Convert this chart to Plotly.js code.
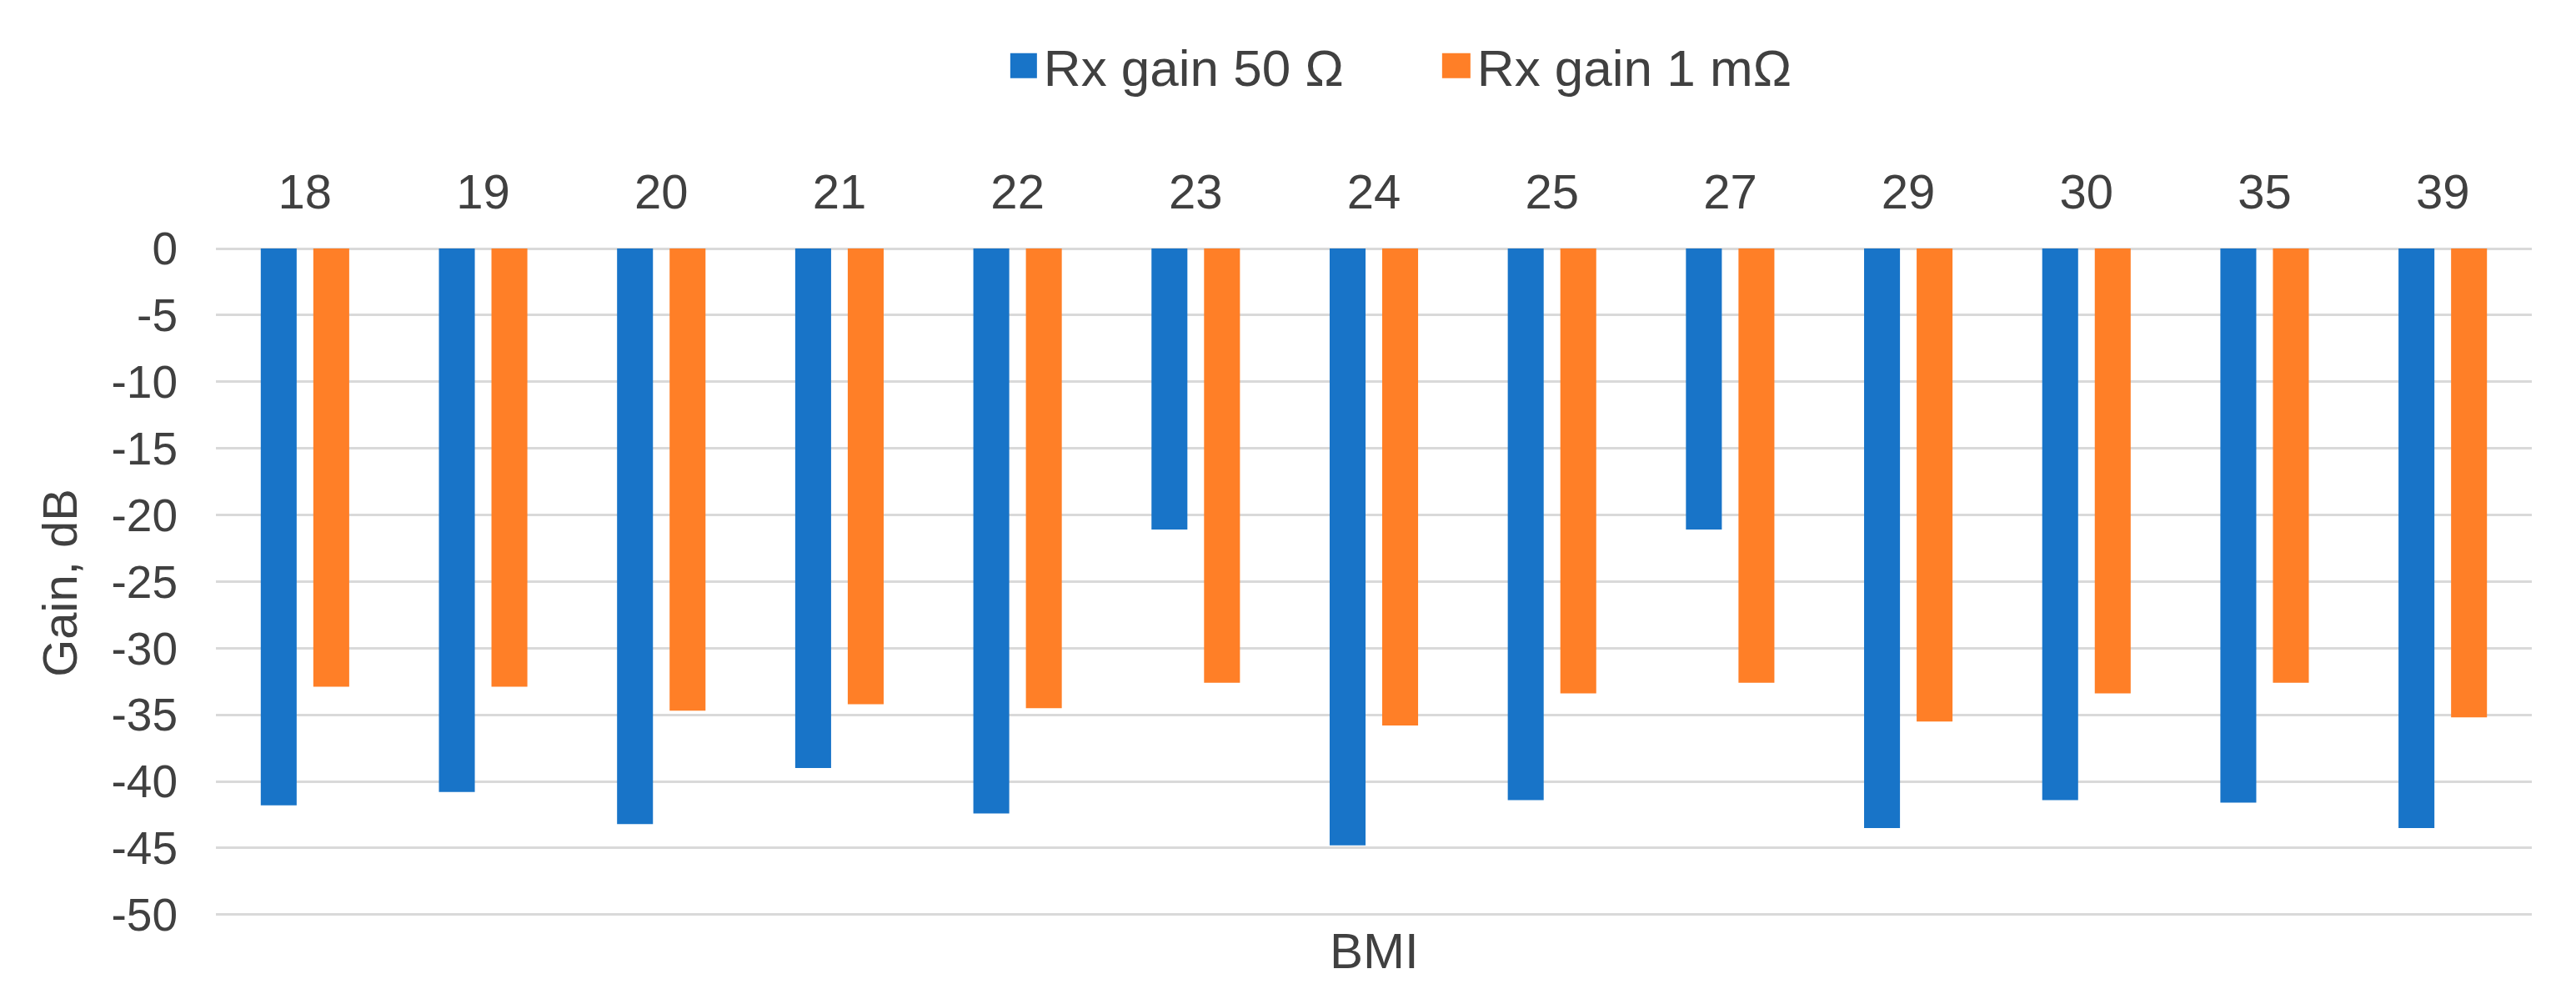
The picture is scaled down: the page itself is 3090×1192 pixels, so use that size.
<!DOCTYPE html>
<html>
<head>
<meta charset="utf-8">
<script src="https://cdn.plot.ly/plotly-3.0.1.min.js"></script>
<style>html,body{margin:0;padding:0;background:#fff;}#chart{width:3090px;height:1192px;}</style>
</head>
<body>
<div id="chart"></div>
<script>
const bmiCategories = ['18','19','20','21','22','23','24','25','27','29','30','35','39'];
const gain50Ohm = [-41.8, -40.8, -43.2, -39.0, -42.4, -21.1, -44.8, -41.4, -21.1, -43.5, -41.4, -41.6, -43.5];
const gain1mOhm = [-32.9, -32.9, -34.7, -34.2, -34.5, -32.6, -35.8, -33.4, -32.6, -35.5, -33.4, -32.6, -35.2];
const yTickValues = [0, -5, -10, -15, -20, -25, -30, -35, -40, -45, -50];
const seriesNames = ['Rx gain 50 Ω', 'Rx gain 1 mΩ'];

const FONT = 'Liberation Sans, Arial, sans-serif';
const traces = [
  {type: 'bar', name: seriesNames[0], x: bmiCategories, y: gain50Ohm, marker: {color: '#1874C8'}, hoverinfo: 'x+y'},
  {type: 'bar', name: seriesNames[1], x: bmiCategories, y: gain1mOhm, marker: {color: '#FF7F27'}, hoverinfo: 'x+y'}
];
const layout = {
  width: 3090, height: 1192,
  margin: {l: 259, r: 53, t: 298, b: 92, pad: 0},
  paper_bgcolor: '#ffffff', plot_bgcolor: '#ffffff',
  font: {family: FONT, color: '#404040'},
  barmode: 'group', bargap: 0.41, bargroupgap: 0.317,
  showlegend: true,
  legend: {orientation: 'h', x: 0.343, xanchor: 'left', y: 1.273, yanchor: 'middle',
           font: {family: FONT, size: 62, color: '#404040'}, entrywidth: 475, entrywidthmode: 'pixels',
           bgcolor: 'rgba(0,0,0,0)', borderwidth: 0},
  xaxis: {type: 'category', side: 'top', showgrid: false, showline: false, zeroline: false, ticks: '',
          tickfont: {family: FONT, size: 58, color: '#404040'}, ticklabelstandoff: 35, automargin: false},
  yaxis: {range: [-50.2, 0], tickvals: yTickValues, ticktext: yTickValues.map(String), showgrid: true,
          gridcolor: '#D9D9D9', gridwidth: 3, zeroline: true, zerolinecolor: '#D9D9D9', zerolinewidth: 3,
          showline: false, ticks: '', tickfont: {family: FONT, size: 55, color: '#404040'},
          ticklabelstandoff: 45, automargin: false,
          title: {text: 'Gain, dB', font: {family: FONT, size: 58, color: '#404040'}, standoff: 22}},
  annotations: [{text: 'BMI', xref: 'paper', yref: 'paper', x: 0.5, y: -0.05, xanchor: 'center', yanchor: 'middle',
                 showarrow: false, font: {family: FONT, size: 60, color: '#404040'}}]
};
function enlargeLegendKeys(){
  document.querySelectorAll('g.legendpoints path').forEach(function(p){
    p.setAttribute('d', 'M12,15H-22V-15H12Z');
    p.style.strokeWidth = '0px';
  });
}
Plotly.newPlot('chart', traces, layout, {displayModeBar: false, staticPlot: true}).then(function(gd){
  enlargeLegendKeys();
  gd.on('plotly_afterplot', enlargeLegendKeys);
  setTimeout(enlargeLegendKeys, 50);
  setTimeout(enlargeLegendKeys, 300);
});
</script>
</body>
</html>
